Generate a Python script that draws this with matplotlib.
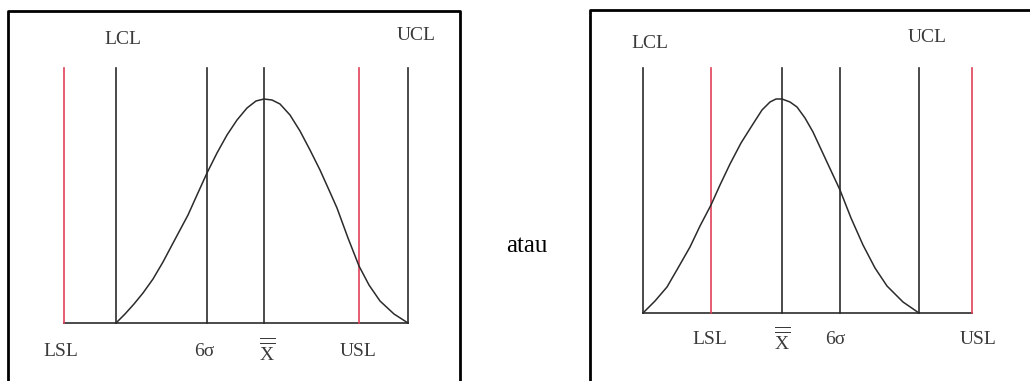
import matplotlib.pyplot as plt

plt.rcParams['font.family'] = ['Liberation Serif', 'DejaVu Serif']
plt.rcParams['mathtext.fontset'] = 'custom'
plt.rcParams['mathtext.rm'] = 'Liberation Serif'

# Kiri: batas spesifikasi di luar batas kendali
kiri_lsl, kiri_usl = 64, 359
kiri_kendali = [116, 207, 264, 408]      # LCL, 6σ, X̿, UCL
kiri_kurva_x = [116, 125, 134, 143, 153, 163, 172, 180, 188, 197, 207, 217, 227, 237,
                247, 256, 264, 272, 280, 290, 300, 310, 320, 329, 337, 348, 359, 369,
                380, 394, 408]
kiri_kurva_y = [323, 314, 304, 293, 279, 262, 245, 230, 215, 195, 173, 153, 135, 120,
                108, 101, 99, 100, 104, 115, 131, 150, 170, 190, 208, 238, 266, 285,
                301, 314, 323]

# Kanan: batas spesifikasi di dalam batas kendali
kanan_lsl, kanan_usl = 711, 972
kanan_kendali = [643, 782, 840, 919]     # LCL, X̿, 6σ, UCL
kanan_kurva_x = [643, 655, 667, 678, 690, 700, 711, 720, 730, 741, 753, 762, 770, 776,
                 782, 790, 797, 805, 813, 826, 840, 851, 863, 875, 887, 903, 919]
kanan_kurva_y = [313, 301, 287, 268, 247, 226, 205, 185, 164, 143, 124, 110, 102, 99,
                 99, 102, 107, 118, 132, 160, 190, 218, 245, 268, 286, 302, 313]

garis_atas = 68
kiri_dasar, kanan_dasar = 323, 313

fig = plt.figure(figsize=(10.30, 3.81), dpi=100)
ax = fig.add_axes([0, 0, 1, 1])
ax.set_xlim(0, 1030)
ax.set_ylim(381, 0)
ax.axis('off')

hitam = '#2b2b2b'
merah = '#e0405a'
teks = '#3a3a3a'

# bingkai
ax.plot([8, 8, 460, 460], [381, 11, 11, 381], color='black', lw=2, solid_capstyle='butt')
ax.plot([590, 590, 1030], [381, 10, 10], color='black', lw=2, solid_capstyle='butt')

def panel(lsl, usl, kendali, kx, ky, dasar):
    xs = [lsl, usl] + kendali
    ax.plot([min(xs), max(xs)], [dasar, dasar], color='#4a4a4a', lw=1.4)
    for x in kendali:
        ax.plot([x, x], [garis_atas, dasar], color=hitam, lw=1.2)
    for x in (lsl, usl):
        ax.plot([x, x], [garis_atas, dasar], color=merah, lw=1.2)
    ax.plot(kx, ky, color=hitam, lw=1.1, solid_joinstyle='round')

panel(kiri_lsl, kiri_usl, kiri_kendali, kiri_kurva_x, kiri_kurva_y, kiri_dasar)
panel(kanan_lsl, kanan_usl, kanan_kendali, kanan_kurva_x, kanan_kurva_y, kanan_dasar)

xbar = r'$\overline{\overline{\mathrm{X}}}$'
label = dict(color=teks, fontsize=14, ha='center', va='center')
ax.text(123, 39, 'LCL', **label)
ax.text(416, 35, 'UCL', **label)
ax.text(61, 351, 'LSL', **label)
ax.text(204, 351, '6σ', **label)
ax.text(267, 351, xbar, **label)
ax.text(358, 351, 'USL', **label)

ax.text(650, 43, 'LCL', **label)
ax.text(927, 38, 'UCL', **label)
ax.text(710, 340, 'LSL', **label)
ax.text(782, 340, xbar, **label)
ax.text(835, 340, '6σ', **label)
ax.text(978, 340, 'USL', **label)

ax.text(527, 246, 'atau', color='black', fontsize=18, ha='center', va='center')

fig.savefig('out.png', dpi=100)
